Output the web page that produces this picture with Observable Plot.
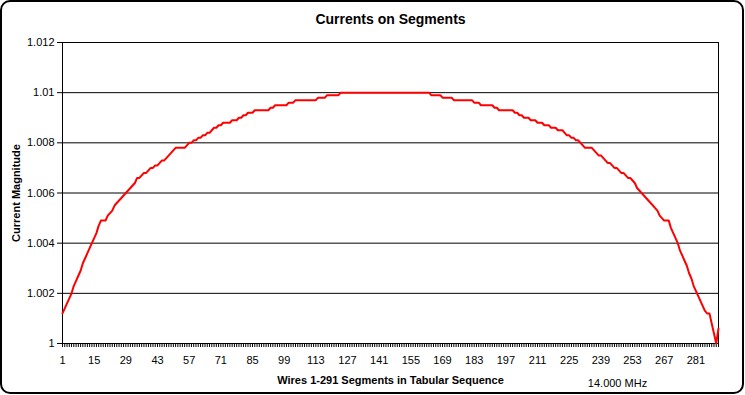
<!DOCTYPE html>
<html><head><meta charset="utf-8">
<script src="https://cdn.jsdelivr.net/npm/d3@7"></script>
<script src="https://cdn.jsdelivr.net/npm/@observablehq/plot@0.6"></script>
<style>html,body{margin:0;padding:0;background:#fff;} svg{display:block;}</style>
</head><body><div id="chart"></div>
<script>
const chartTitle = "Currents on Segments";
const yTitle = "Current Magnitude";
const xTitle = "Wires 1-291 Segments in Tabular Sequence";
const freqNote = "14.000 MHz";

const currents = [
  1.0012,1.0014,1.0016,1.0018,1.0020,1.0023,1.0025,1.0027,1.0029,1.0032,
  1.0034,1.0036,1.0038,1.0040,1.0042,1.0044,1.0047,1.0049,1.0049,1.0049,
  1.0051,1.0052,1.0053,1.0055,1.0056,1.0057,1.0058,1.0059,1.0060,1.0061,
  1.0062,1.0063,1.0064,1.0066,1.0066,1.0067,1.0068,1.0068,1.0069,1.0070,
  1.0070,1.0071,1.0071,1.0072,1.0073,1.0073,1.0074,1.0075,1.0076,1.0077,
  1.0078,1.0078,1.0078,1.0078,1.0078,1.0079,1.0080,1.0080,1.0081,1.0081,
  1.0082,1.0082,1.0083,1.0083,1.0084,1.0084,1.0085,1.0086,1.0086,1.0087,
  1.0087,1.0088,1.0088,1.0088,1.0088,1.0089,1.0089,1.0089,1.0090,1.0090,
  1.0091,1.0091,1.0092,1.0092,1.0092,1.0093,1.0093,1.0093,1.0093,1.0093,
  1.0093,1.0093,1.0094,1.0094,1.0095,1.0095,1.0095,1.0095,1.0095,1.0095,
  1.0096,1.0096,1.0096,1.0097,1.0097,1.0097,1.0097,1.0097,1.0097,1.0097,
  1.0097,1.0097,1.0097,1.0098,1.0098,1.0098,1.0098,1.0099,1.0099,1.0099,
  1.0099,1.0099,1.0099,1.0100,1.0100,1.0100,1.0100,1.0100,1.0100,1.0100,
  1.0100,1.0100,1.0100,1.0100,1.0100,1.0100,1.0100,1.0100,1.0100,1.0100,
  1.0100,1.0100,1.0100,1.0100,1.0100,1.0100,1.0100,1.0100,1.0100,1.0100,
  1.0100,1.0100,1.0100,1.0100,1.0100,1.0100,1.0100,1.0100,1.0100,1.0100,
  1.0100,1.0100,1.0100,1.0099,1.0099,1.0099,1.0099,1.0099,1.0098,1.0098,
  1.0098,1.0098,1.0098,1.0097,1.0097,1.0097,1.0097,1.0097,1.0097,1.0097,
  1.0097,1.0097,1.0096,1.0096,1.0096,1.0095,1.0095,1.0095,1.0095,1.0095,
  1.0095,1.0094,1.0094,1.0093,1.0093,1.0093,1.0093,1.0093,1.0093,1.0093,
  1.0092,1.0092,1.0091,1.0091,1.0090,1.0090,1.0090,1.0089,1.0089,1.0089,
  1.0088,1.0088,1.0088,1.0087,1.0087,1.0087,1.0086,1.0086,1.0086,1.0085,
  1.0085,1.0085,1.0084,1.0083,1.0083,1.0082,1.0082,1.0081,1.0081,1.0080,
  1.0079,1.0078,1.0078,1.0078,1.0078,1.0077,1.0076,1.0075,1.0075,1.0074,
  1.0073,1.0072,1.0072,1.0071,1.0070,1.0070,1.0069,1.0068,1.0068,1.0067,
  1.0066,1.0066,1.0065,1.0064,1.0062,1.0061,1.0060,1.0059,1.0058,1.0057,
  1.0056,1.0055,1.0054,1.0053,1.0051,1.0050,1.0049,1.0049,1.0049,1.0046,
  1.0044,1.0042,1.0040,1.0037,1.0035,1.0033,1.0031,1.0028,1.0026,1.0023,
  1.0021,1.0019,1.0017,1.0015,1.0013,1.0012,1.0012,1.0008,1.0004,1.0000,
  1.0006
];
const segments = currents.map((_, i) => i + 1);

const xLabels = [1,15,29,43,57,71,85,99,113,127,141,155,169,183,197,211,225,239,253,267,281];
const yTicks = [1, 1.002, 1.004, 1.006, 1.008, 1.01, 1.012];
const yLabels = ["1","1.002","1.004","1.006","1.008","1.01","1.012"];

const svg = Plot.plot({
  width: 745, height: 395,
  marginLeft: 62, marginRight: 27, marginTop: 42, marginBottom: 52,
  style: {fontFamily: "'Liberation Sans', Arial, sans-serif", fontSize: "11px", color: "black", background: "white", overflow: "visible"},
  x: {type: "linear", domain: [1, 291]},
  y: {domain: [1, 1.012]},
  marks: [
    Plot.ruleY(yTicks, {stroke: "black", strokeOpacity: 1}),
    Plot.frame({stroke: "black"}),
    Plot.axisY({ticks: yTicks, tickSize: 5, tickPadding: 3, tickFormat: d => yLabels[yTicks.indexOf(d)], label: null, stroke: "black"}),
    Plot.axisX({ticks: segments, tickSize: 4, tickFormat: () => "", label: null, stroke: "black", strokeOpacity: 1}),
    Plot.axisX({ticks: xLabels, tickSize: 0, tickPadding: 13, label: null}),
    Plot.line(currents, {x: segments, y: currents, stroke: "#ff0000", strokeWidth: 2}),
    Plot.text([chartTitle], {frameAnchor: "top", dy: -23, lineAnchor: "middle", fontWeight: "bold", fontSize: 14, text: d => d}),
    Plot.text([yTitle], {frameAnchor: "left", dx: -46, rotate: -90, textAnchor: "middle", fontWeight: "bold", fontSize: 11, text: d => d}),
    Plot.text([xTitle], {frameAnchor: "bottom", dy: 37, lineAnchor: "middle", fontWeight: "bold", fontSize: 11, text: d => d}),
    Plot.text([freqNote], {frameAnchor: "bottom", dx: 227, dy: 40, lineAnchor: "middle", fontSize: 11, text: d => d})
  ]
});

d3.select(svg).append("rect")
  .attr("x", 1).attr("y", 1).attr("width", 742).attr("height", 392)
  .attr("rx", 9).attr("ry", 9)
  .attr("fill", "none").attr("stroke", "black").attr("stroke-width", 2);

document.getElementById("chart").appendChild(svg);
</script>
</body></html>
